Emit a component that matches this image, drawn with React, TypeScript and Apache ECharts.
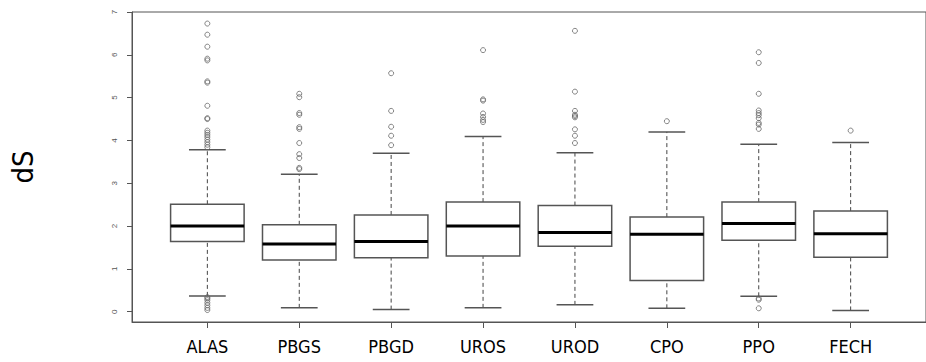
import React, { useEffect, useRef } from "react";
import * as echarts from "echarts";

const categories = ["ALAS", "PBGS", "PBGD", "UROS", "UROD", "CPO", "PPO", "FECH"];
const lowerWhisker = [0.37, 0.09, 0.05, 0.09, 0.16, 0.08, 0.36, 0.03];
const q1 = [1.64, 1.21, 1.26, 1.3, 1.53, 0.73, 1.67, 1.27];
const median = [2.0, 1.58, 1.64, 2.0, 1.85, 1.81, 2.06, 1.82];
const q3 = [2.51, 2.03, 2.26, 2.56, 2.48, 2.21, 2.56, 2.35];
const upperWhisker = [3.78, 3.21, 3.7, 4.09, 3.71, 4.2, 3.91, 3.95];

const outliersALAS = [6.73, 6.47, 6.19, 5.91, 5.87, 5.38, 5.35, 4.81, 4.52, 4.5, 4.23, 4.18, 4.13, 4.08, 4.02, 3.96, 3.9, 3.84, 0.34, 0.31, 0.27, 0.21, 0.15, 0.09, 0.04];
const outliersPBGS = [5.09, 5.01, 4.64, 4.6, 4.31, 4.27, 3.94, 3.68, 3.59, 3.36, 3.33];
const outliersPBGD = [5.57, 4.69, 4.32, 4.11, 3.89];
const outliersUROS = [6.11, 4.96, 4.93, 4.63, 4.55, 4.48, 4.43];
const outliersUROD = [6.56, 5.14, 4.69, 4.6, 4.57, 4.54, 4.26, 4.11, 3.94];
const outliersCPO = [4.45];
const outliersPPO = [6.06, 5.81, 5.09, 4.7, 4.64, 4.59, 4.52, 4.41, 4.37, 4.27, 0.31, 0.28, 0.08];
const outliersFECH = [4.23];
const outliers = [outliersALAS, outliersPBGS, outliersPBGD, outliersUROS, outliersUROD, outliersCPO, outliersPPO, outliersFECH];

const yTicks = [0, 1, 2, 3, 4, 5, 6, 7];
const xTicks = [1, 2, 3, 4, 5, 6, 7, 8];

export default function App() {
  const ref = useRef<HTMLDivElement>(null);
  useEffect(() => {
    document.body.style.margin = "0";
    if (!ref.current) return;
    const chart = echarts.init(ref.current, null, { renderer: "svg" });
    const boxData = categories.map((_, i) => [i + 1, lowerWhisker[i], q1[i], median[i], q3[i], upperWhisker[i]]);
    const outData: number[][] = [];
    outliers.forEach((arr, i) => arr.forEach((v) => outData.push([i + 1, v])));
    const lineCol = "#555";
    const condensed = "'DejaVu Sans Condensed', 'DejaVu Sans', sans-serif";
    chart.setOption({
      animation: false,
      backgroundColor: "#fff",
      grid: {
        left: 128,
        top: 12,
        width: 814,
        height: 310,
        show: true,
        borderColor: lineCol,
        borderWidth: 1,
        backgroundColor: "transparent",
      },
      xAxis: {
        type: "value",
        min: 0.18,
        max: 8.82,
        splitLine: { show: false },
        axisLine: { show: true, onZero: false, lineStyle: { color: lineCol } },
        axisTick: { show: true, customValues: xTicks, length: 6, lineStyle: { color: lineCol } },
        axisLabel: {
          customValues: xTicks,
          formatter: (v: number) => categories[Math.round(v) - 1] ?? "",
          fontSize: 18,
          fontFamily: condensed,
          color: "#000",
          margin: 15,
        },
      },
      yAxis: {
        type: "value",
        min: -0.24,
        max: 7.0,
        name: "dS",
        nameLocation: "middle",
        nameRotate: 90,
        nameGap: 95,
        nameTextStyle: { fontSize: 29, fontFamily: condensed, color: "#000" },
        splitLine: { show: false },
        axisLine: { show: true, onZero: false, lineStyle: { color: lineCol } },
        axisTick: { show: true, customValues: yTicks, length: 5, lineStyle: { color: lineCol } },
        axisLabel: {
          customValues: yTicks,
          rotate: 90,
          fontSize: 8,
          fontFamily: "'Liberation Sans', Arial, sans-serif",
          color: "#555",
          margin: 14,
        },
      },
      series: [
        {
          type: "custom",
          data: boxData,
          renderItem: (params: any, api: any) => {
            const x = api.value(0);
            const lo = api.coord([x, api.value(1)]);
            const b1 = api.coord([x, api.value(2)]);
            const md = api.coord([x, api.value(3)]);
            const b3 = api.coord([x, api.value(4)]);
            const hi = api.coord([x, api.value(5)]);
            const unit = api.size([1, 0])[0];
            const hw = unit * 0.4;
            const cw = unit * 0.2;
            const cx = lo[0];
            return {
              type: "group",
              children: [
                { type: "line", shape: { x1: cx, y1: b3[1], x2: cx, y2: hi[1] }, style: { stroke: "#444", lineWidth: 1, lineDash: [4, 3] } },
                { type: "line", shape: { x1: cx, y1: lo[1], x2: cx, y2: b1[1] }, style: { stroke: "#444", lineWidth: 1, lineDash: [4, 3] } },
                { type: "line", shape: { x1: cx - cw, y1: hi[1], x2: cx + cw, y2: hi[1] }, style: { stroke: lineCol, lineWidth: 1.5 } },
                { type: "line", shape: { x1: cx - cw, y1: lo[1], x2: cx + cw, y2: lo[1] }, style: { stroke: lineCol, lineWidth: 1.5 } },
                { type: "rect", shape: { x: cx - hw, y: b3[1], width: 2 * hw, height: b1[1] - b3[1] }, style: { fill: "#fff", stroke: lineCol, lineWidth: 1.5 } },
                { type: "line", shape: { x1: cx - hw, y1: md[1], x2: cx + hw, y2: md[1] }, style: { stroke: "#000", lineWidth: 3 } },
              ],
            };
          },
        },
        {
          type: "scatter",
          data: outData,
          symbol: "circle",
          symbolSize: 5,
          itemStyle: { color: "transparent", borderColor: "#666", borderWidth: 1 },
        },
      ],
    });
    return () => chart.dispose();
  }, []);
  return <div ref={ref} style={{ width: 926, height: 362 }} />;
}
